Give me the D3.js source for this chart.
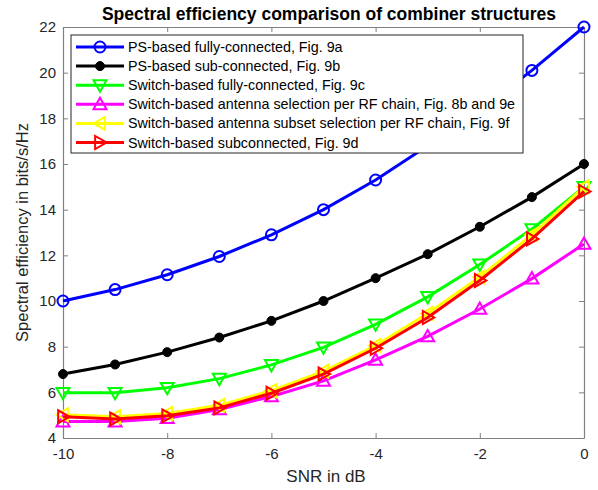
<!DOCTYPE html>
<html><head><meta charset="utf-8">
<script src="https://cdn.jsdelivr.net/npm/d3@7"></script>
<style>body{margin:0;background:#fff;}svg{display:block;font-family:"Liberation Sans",Arial,sans-serif;}</style>
</head><body>
<svg id="c" width="598" height="490"></svg>
<script>
const snr = [-10,-9,-8,-7,-6,-5,-4,-3,-2,-1,0];
const psFull   = [10.0,10.5,11.15,11.95,12.9,14.0,15.3,16.8,18.35,20.1,22.0];
const psSub    = [6.8,7.22,7.76,8.4,9.13,10.0,11.0,12.05,13.25,14.55,16.0];
const swFull   = [5.98,5.98,6.2,6.6,7.2,7.97,8.98,10.18,11.6,13.15,15.0];
const swAnt    = [4.72,4.72,4.87,5.25,5.82,6.5,7.42,8.45,9.65,10.98,12.5];
const swSubset = [5.02,4.93,5.07,5.43,6.07,6.92,8.05,9.45,11.05,12.9,15.0];
const swSubc   = [4.93,4.83,4.97,5.32,5.96,6.8,7.93,9.28,10.9,12.72,14.8];
const seriesNames = ["PS-based fully-connected, Fig. 9a","PS-based sub-connected, Fig. 9b","Switch-based fully-connected, Fig. 9c","Switch-based antenna selection per RF chain, Fig. 8b and 9e","Switch-based antenna subset selection per RF chain, Fig. 9f","Switch-based subconnected, Fig. 9d"];
const xTicks = [-10,-8,-6,-4,-2,0];
const yTicks = [4,6,8,10,12,14,16,18,20,22];

const series = [
  {name:seriesNames[0], v:psFull, color:"#0000ff", marker:"circle"},
  {name:seriesNames[1], v:psSub, color:"#000000", marker:"dot"},
  {name:seriesNames[2], v:swFull, color:"#00ff00", marker:"tridown"},
  {name:seriesNames[3], v:swAnt, color:"#ff00ff", marker:"triup"},
  {name:seriesNames[4], v:swSubset, color:"#ffff00", marker:"trileft"},
  {name:seriesNames[5], v:swSubc, color:"#ff0000", marker:"triright"}
];

const svg = d3.select("#c");
const L=63, R=584, T=27, B=438;
const x = d3.scaleLinear().domain([-10,0]).range([L,R]);
const y = d3.scaleLinear().domain([4,22]).range([B,T]);
const axisCol = "#262626";
const fmt = d => String(d);

// axes
const gx = svg.append("g").attr("transform",`translate(0,${B})`)
  .call(d3.axisBottom(x).tickValues(xTicks).tickFormat(fmt).tickSizeInner(-5).tickSizeOuter(0).tickPadding(10));
const gy = svg.append("g").attr("transform",`translate(${L},0)`)
  .call(d3.axisLeft(y).tickValues(yTicks).tickFormat(fmt).tickSizeInner(-5).tickSizeOuter(0).tickPadding(7));
const gx2 = svg.append("g").attr("transform",`translate(0,${T})`)
  .call(d3.axisTop(x).tickValues(xTicks).tickSizeInner(-5).tickSizeOuter(0).tickFormat(""));
const gy2 = svg.append("g").attr("transform",`translate(${R},0)`)
  .call(d3.axisRight(y).tickValues(yTicks).tickSizeInner(-5).tickSizeOuter(0).tickFormat(""));
[gx,gy,gx2,gy2].forEach(g=>{
  g.selectAll("path").attr("stroke","#808080").attr("stroke-width",1.2);
  g.selectAll("line").attr("stroke","#808080").attr("stroke-width",1);
  g.selectAll("text").attr("fill",axisCol).style("font-size","15px").style("font-family","'Liberation Sans',Arial,sans-serif");
});

const line = d3.line().x((d,i)=>x(snr[i])).y(d=>y(d));

function drawMarker(g, type, cx, cy, color){
  const s = 6.5;
  if(type==="circle"){
    g.append("circle").attr("cx",cx).attr("cy",cy).attr("r",5.5).attr("fill","none").attr("stroke",color).attr("stroke-width",2);
  } else if(type==="dot"){
    g.append("circle").attr("cx",cx).attr("cy",cy).attr("r",4.5).attr("fill",color).attr("stroke",color).attr("stroke-width",1);
  } else {
    let pts;
    if(type==="tridown") pts=[[cx-s,cy-s*0.75],[cx+s,cy-s*0.75],[cx,cy+s]];
    if(type==="triup") pts=[[cx-s,cy+s*0.75],[cx+s,cy+s*0.75],[cx,cy-s]];
    if(type==="trileft") pts=[[cx+s*0.75,cy-s],[cx+s*0.75,cy+s],[cx-s,cy]];
    if(type==="triright") pts=[[cx-s*0.75,cy-s],[cx-s*0.75,cy+s],[cx+s,cy]];
    g.append("polygon").attr("points",pts.map(p=>p.join(",")).join(" ")).attr("fill","none").attr("stroke",color).attr("stroke-width",2);
  }
}

const plot = svg.append("g");
series.forEach(s=>{
  plot.append("path").datum(s.v).attr("d",line).attr("fill","none").attr("stroke",s.color).attr("stroke-width",3);
  const mg = plot.append("g");
  s.v.forEach((d,i)=>drawMarker(mg,s.marker,x(snr[i]),y(d),s.color));
});

// legend
const lg = svg.append("g");
const lx=71, ly=35, lw=452, lh=118;
lg.append("rect").attr("x",lx).attr("y",ly).attr("width",lw).attr("height",lh).attr("fill","#fff").attr("stroke","#262626").attr("stroke-width",1);
series.forEach((s,i)=>{
  const yy = ly+12+i*19.1;
  lg.append("line").attr("x1",76).attr("x2",124).attr("y1",yy).attr("y2",yy).attr("stroke",s.color).attr("stroke-width",3);
  drawMarker(lg,s.marker,100,yy,s.color);
  lg.append("text").attr("x",128).attr("y",yy+5).text(s.name).attr("fill","#000").style("font-size","14.3px");
});

// labels
svg.append("text").attr("x",329).attr("y",20).attr("text-anchor","middle").style("font-weight","bold").style("font-size","17.5px").attr("fill","#000").text("Spectral efficiency comparison of combiner structures");
svg.append("text").attr("x",326).attr("y",482).attr("text-anchor","middle").style("font-size","17px").attr("fill",axisCol).text("SNR in dB");
svg.append("text").attr("transform",`translate(28,${(T+B)/2}) rotate(-90)`).attr("text-anchor","middle").style("font-size","16.5px").attr("fill",axisCol).text("Spectral efficiency in bits/s/Hz");
</script>
</body></html>
